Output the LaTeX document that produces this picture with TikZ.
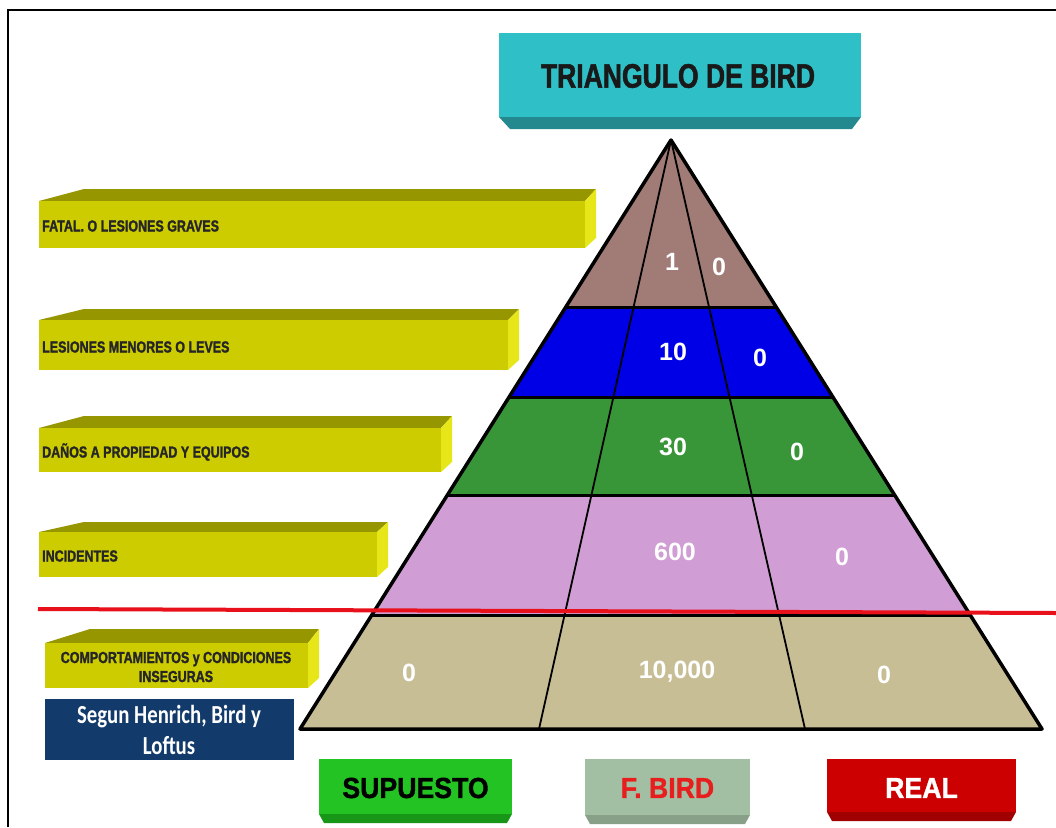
\documentclass[tikz,border=0pt]{standalone}
\usepackage{fontspec}
\setmainfont{Liberation Sans}
\newfontfamily\heavyfont[FakeStretch=0.78, FakeBold=1.5]{Liberation Sans Bold}
\newfontfamily\boxfont[FakeStretch=0.92, FakeBold=1.2]{Liberation Sans Bold}
\newfontfamily\calfont[FakeStretch=0.8]{Carlito}
\usetikzlibrary{positioning}
\usetikzlibrary{calc}
\definecolor{titlecyan}{RGB}{47,191,198}
\definecolor{titleshade}{RGB}{36,136,143}
\definecolor{barfront}{RGB}{204,204,0}
\definecolor{bartop}{RGB}{150,150,0}
\definecolor{barside}{RGB}{230,230,25}
\definecolor{bandbrown}{RGB}{161,123,118}
\definecolor{bandblue}{RGB}{0,0,230}
\definecolor{bandgreen}{RGB}{56,150,56}
\definecolor{bandpink}{RGB}{208,158,212}
\definecolor{bandtan}{RGB}{200,190,150}
\definecolor{navy}{RGB}{18,58,107}
\definecolor{supgreen}{RGB}{34,195,34}
\definecolor{supshade}{RGB}{24,150,24}
\definecolor{birdgray}{RGB}{163,191,163}
\definecolor{birdshade}{RGB}{135,160,135}
\definecolor{birdred}{RGB}{232,30,30}
\definecolor{realred}{RGB}{204,0,0}
\definecolor{realshade}{RGB}{160,0,0}
\definecolor{redline}{RGB}{232,16,26}
\tikzset{
  numtext/.style={text=white, font=\bfseries\fontsize{25}{25}\selectfont},
  bartext/.style={anchor=west, inner sep=0pt, text=black!85,
    font=\heavyfont\fontsize{16}{19}\selectfont},
  boxtext/.style={font=\boxfont\fontsize{29}{29}\selectfont},
  edgeline/.style={line width=3.5pt, line join=round},
  bandline/.style={line width=3pt},
  divline/.style={line width=1.8pt},
}

\begin{document}
\begin{tikzpicture}[x=1pt, y=-1pt]
    \useasboundingbox (0,0) rectangle (1056,827);
    \fill[white] (0,0) rectangle (1056,827);
    % Frame
    \draw[line width=2pt] (8,827) -- (8,10) -- (1056,10);

    % Title box
    \fill[titleshade] (499,117) -- (510,129) -- (852,129) -- (861,117) -- cycle;
    \fill[titlecyan] (499,33) rectangle (861,117);
    \node[font=\heavyfont\fontsize{34}{34}\selectfont, text=black!90] (title) at (678,76) {TRIANGULO DE BIRD};

    % Yellow bars
    \foreach \xa/\xb/\ya/\yf/\yb in {39/585/189/201/248, 39/508/309/320/370, 39/441/416/428/472, 39/377/522/532/577, 45/308/629/643/688} {
        \fill[bartop] (\xa,\yf) -- (\xa+45,\ya) -- (\xb+11,\ya) -- (\xb,\yf) -- cycle;
        \fill[barside] (\xb,\yf) -- (\xb+11,\ya) -- (\xb+11,\yb-10) -- (\xb,\yb) -- cycle;
        \fill[barfront] (\xa,\yf) rectangle (\xb,\yb);
    }
    \foreach \name/\ty/\txt in {fatal/226/{FATAL. O LESIONES GRAVES}, leves/347/{LESIONES MENORES O LEVES}, danos/452/{DAÑOS A PROPIEDAD Y EQUIPOS}, incid/556/{INCIDENTES}} {
        \node[bartext] (\name) at (42,\ty) {\txt};
    }
    \node[bartext, anchor=center, align=center] (comport) at (176,667) {COMPORTAMIENTOS y CONDICIONES\\INSEGURAS};

    % Authors box
    \node[fill=navy, text=white, minimum width=249pt, minimum height=61pt, inner sep=0pt, align=center,
          font=\calfont\bfseries\fontsize{26}{31}\selectfont] (autores) at (169,729.5) {Segun Henrich, Bird y\\Loftus};

    % Pyramid
    \coordinate (apex) at (671,140);
    \coordinate (bl) at (300,729);
    \coordinate (br) at (1042,729);
    \coordinate (d1) at (539,729);
    \coordinate (d2) at (805,729);
    \begin{scope}
        \clip (apex) -- (bl) -- (br) -- cycle;
        \foreach \ya/\yb/\c in {130/308/bandbrown, 308/398/bandblue, 398/495/bandgreen, 495/615/bandpink, 615/740/bandtan} {
            \fill[\c] (250,\ya) rectangle (1050,\yb);
        }
    \end{scope}
    \draw[divline] (apex) -- (d1);
    \draw[divline] (apex) -- (d2);
    \foreach \t in {0.2852,0.4380,0.6027,0.8065} {
        \draw[bandline] ($(apex)!\t!(bl)$) -- ($(apex)!\t!(br)$);
    }
    \draw[edgeline] (apex) -- (bl) -- (br) -- cycle;

    % Numbers
    \node[numtext] (n1) at (672,262) {1};
    \node[numtext] (r1) at (719,267) {0};
    \node[numtext] (n2) at (673,352) {10};
    \node[numtext] (r2) at (760,358) {0};
    \node[numtext] (n3) at (673,447) {30};
    \node[numtext] (r3) at (797,452) {0};
    \node[numtext] (n4) at (675,552) {600};
    \node[numtext] (r4) at (842,557) {0};
    \node[numtext] (s5) at (409,673) {0};
    \node[numtext] (n5) at (677,672) {10,000};
    \node[numtext] (r5) at (884,675) {0};

    % Red line
    \coordinate (rl) at (38,609);
    \coordinate (rr) at (1056,613);
    \draw[redline, line width=4pt] (rl) -- (rr);

    % Bottom boxes
    \foreach \name/\xa/\xb/\yb/\fc/\sc/\tc/\txt in {sup/319/512/814/supgreen/supshade/black/SUPUESTO, bird/585/750/815/birdgray/birdshade/birdred/{F. BIRD}, real/827/1016/812/realred/realshade/white/REAL} {
        \fill[\sc] (\xa,\yb) -- (\xa+5,\yb+9) -- (\xb-5,\yb+9) -- (\xb,\yb) -- cycle;
        \fill[\fc] (\xa,759) rectangle (\xb,\yb);
        \node[boxtext, text=\tc] (\name) at ({(\xa+\xb)/2},788) {\txt};
    }
\end{tikzpicture}
\end{document}
